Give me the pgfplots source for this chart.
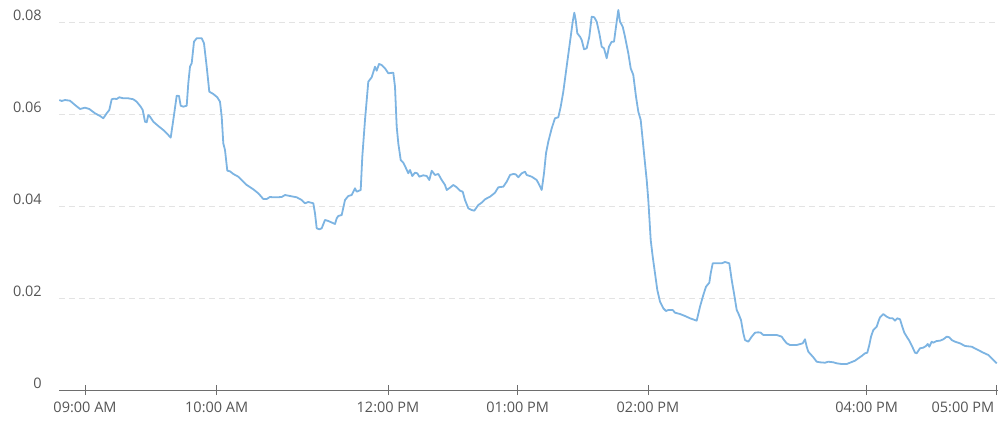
\documentclass[border=0pt]{standalone}
\usepackage{fontspec}
\setmainfont{Open Sans}
\usepackage{pgfplots}
\pgfplotsset{compat=1.18}
\definecolor{linecol}{HTML}{7DB4E2}
\definecolor{txtcol}{HTML}{555555}
\definecolor{gridcol}{HTML}{E3E3E3}
\definecolor{axcol}{HTML}{6E6E6E}
\begin{document}
\begin{tikzpicture}[x=1pt,y=1pt]
\begin{axis}[
    scale only axis,
    width=938.7pt, height=390pt,
    xmin=59.3, xmax=998,
    ymin=0, ymax=0.08478,
    axis x line=bottom, axis y line=left,
    x axis line style={-, draw=axcol, line width=0.9pt},
    y axis line style={draw=none},
    xtick={85,216.7,388,517.7,648,866.7},
    xticklabels={09:00 AM,10:00 AM,12:00 PM,01:00 PM,02:00 PM,04:00 PM},
    extra x ticks={996.7},
    extra x tick labels={05:00 PM},
    extra x tick style={xticklabel style={anchor=north east, xshift=1pt}},
    ytick={0,0.02,0.04,0.06,0.08},
    yticklabels={0,0.02,0.04,0.06,0.08},
    xtick style={draw=axcol, line width=0.9pt},
    major tick length=10pt,
    ytick style={draw=none},
    ymajorgrids,
    grid style={gridcol, line width=0.8pt, dash pattern=on 6pt off 4pt},
    tick label style={text=txtcol, font=\fontsize{14.5}{17}\selectfont},
    yticklabel style={anchor=east, xshift=-9pt, yshift=6.5pt},
    xticklabel style={yshift=-3pt},
    clip=false,
]
\addplot[linecol, line width=1.8pt, line join=round] table {
x y
59.3 0.06304
61.7 0.06283
65 0.06304
70 0.06289
75 0.06196
80 0.06109
85 0.06137
89.3 0.06109
95 0.06015
100 0.05957
103.3 0.05907
106.7 0.06015
109.3 0.06087
111.7 0.06320
114 0.06333
116.7 0.06326
119.3 0.06363
123.3 0.06341
128.3 0.06341
133.3 0.06320
136.7 0.06267
140.7 0.06159
142.7 0.06087
145 0.05833
146.7 0.05820
148.3 0.05978
150 0.05941
153.3 0.05833
158.3 0.05739
163.3 0.05652
168.3 0.05543
170.7 0.05485
173.3 0.05870
176.7 0.06398
179 0.06391
180.7 0.06180
183.3 0.06159
186.7 0.06180
188.3 0.06667
190 0.07028
191.7 0.07102
194 0.07572
196.7 0.07646
201.7 0.07646
204 0.07537
206.7 0.07028
209.3 0.06485
213.3 0.06435
217.3 0.06363
220 0.06267
221.7 0.05941
223.3 0.05363
225 0.05217
227.3 0.04767
230 0.04754
233.3 0.04696
238.3 0.04637
243.3 0.04528
246.7 0.04457
253.3 0.04363
258.3 0.04276
263.3 0.04152
266.7 0.04152
270 0.04196
273.3 0.04189
276.7 0.04189
281.7 0.04196
285 0.04239
290 0.04217
296.7 0.04189
301.7 0.04130
305 0.04059
308.3 0.04087
313.3 0.04059
315 0.03841
316.7 0.03515
319.3 0.03493
321.7 0.03515
325 0.03696
328.3 0.03674
335 0.03609
336.7 0.03733
338.3 0.03783
341.7 0.03804
345 0.04130
348.3 0.04217
351.7 0.04239
355 0.04385
356.7 0.04311
360.7 0.04348
362.3 0.05072
365 0.05870
368.3 0.06702
371.7 0.06798
375 0.07028
376.7 0.06941
379 0.07087
381.7 0.07065
385 0.06993
388.3 0.06885
393.3 0.06898
395 0.06593
396.7 0.05724
398.3 0.05363
400.7 0.05000
403.3 0.04941
406 0.04820
408.3 0.04711
410 0.04783
412.3 0.04652
415 0.04724
417.3 0.04711
419.3 0.04637
423.3 0.04667
426.7 0.04652
429.3 0.04565
431.7 0.04767
435 0.04674
438.3 0.04696
441.7 0.04565
445 0.04457
446.7 0.04348
450 0.04398
453.3 0.04457
456.7 0.04407
460 0.04333
462.7 0.04311
465 0.04130
468.3 0.03950
471.7 0.03913
474.3 0.03898
478.3 0.04022
481.7 0.04072
485 0.04146
490 0.04202
495 0.04289
498.3 0.04407
503.3 0.04420
506.7 0.04528
510 0.04674
513.3 0.04696
515.7 0.04689
518.3 0.04624
521.7 0.04711
525 0.04746
526.7 0.04674
531.7 0.04637
536.7 0.04565
539.3 0.04457
541.7 0.04348
544 0.04711
546 0.05146
548.3 0.05398
551.7 0.05689
555 0.05907
558.3 0.05928
560.7 0.06159
563.3 0.06485
567.3 0.07137
570.7 0.07680
572.7 0.08007
574.3 0.08202
575.7 0.08043
577.3 0.07754
580 0.07680
581.7 0.07609
584 0.07407
586.7 0.07428
589.3 0.07680
591.7 0.08115
594.3 0.08102
596.7 0.08007
599.3 0.07754
601.7 0.07463
604 0.07428
606.7 0.07211
609 0.07463
611.7 0.07572
614 0.07572
616 0.07898
618.3 0.08261
620 0.08007
622.7 0.07898
625 0.07680
628.3 0.07320
630.7 0.06993
633.3 0.06848
636 0.06376
638.3 0.06050
640.7 0.05870
642.7 0.05435
645 0.04928
646.7 0.04565
648.3 0.04130
650.7 0.03261
652.7 0.02898
655 0.02537
657.3 0.02174
660 0.01920
663.3 0.01776
666 0.01717
668.3 0.01739
672.7 0.01739
675 0.01680
680 0.01652
685 0.01609
690 0.01559
696.7 0.01507
700 0.01811
703.3 0.02065
706 0.02246
709.3 0.02333
710.7 0.02537
712.7 0.02754
716.7 0.02754
721.7 0.02754
725 0.02783
729.3 0.02754
731.7 0.02391
734 0.02102
736.7 0.01739
738.3 0.01667
741 0.01522
743.3 0.01233
745 0.01087
748.3 0.01050
751.7 0.01159
755 0.01246
758.3 0.01254
760.7 0.01246
763.3 0.01196
770 0.01196
776.7 0.01196
781.7 0.01159
784 0.01087
786.7 0.01015
790 0.00978
796.7 0.00978
802.7 0.01015
805 0.01102
806.7 0.00941
808.3 0.00833
813.3 0.00711
816.7 0.00615
820 0.00602
825 0.00593
828.3 0.00615
833.3 0.00602
836.7 0.00580
841.7 0.00565
846.7 0.00565
850 0.00593
855 0.00637
858.3 0.00689
861.7 0.00739
865 0.00798
867.3 0.00811
869.3 0.00978
871 0.01159
873.3 0.01304
876.7 0.01376
878.3 0.01485
880 0.01580
883.3 0.01652
886.7 0.01593
890 0.01559
892.7 0.01559
895 0.01507
897.3 0.01559
900 0.01537
902.3 0.01376
904.3 0.01246
906.7 0.01159
909.3 0.01072
912.3 0.00941
915 0.00811
916.7 0.00798
920 0.00907
923.3 0.00920
926 0.00957
927.7 0.01000
929.3 0.00941
931.7 0.01050
933.3 0.01028
936.7 0.01065
940 0.01072
943.3 0.01102
946.7 0.01159
949.3 0.01146
951.7 0.01087
955 0.01050
960 0.01015
965 0.00957
971.7 0.00941
976.7 0.00885
983.3 0.00811
988.3 0.00761
991.7 0.00689
996.7 0.00580
};
\end{axis}
\pgfresetboundingbox
\path[use as bounding box] (-59.3pt,-46pt) rectangle (943.7pt,390pt);
\end{tikzpicture}
\end{document}
